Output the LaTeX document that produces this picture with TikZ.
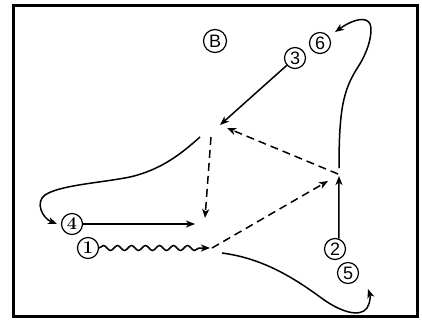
\documentclass[tikz,border=0pt]{standalone}
\usepackage{fontspec}
\newfontfamily\numsans{Liberation Sans}
\usetikzlibrary{arrows.meta,decorations.pathmorphing}
\begin{document}
\begin{tikzpicture}[x=1pt,y=-1pt,
  num/.style={circle,draw,line width=1.2pt,inner sep=0pt,minimum size=21pt,font=\numsans\fontsize{18}{18}\selectfont},
  numser/.style={num,font=\bfseries\fontsize{18}{18}\selectfont},
  tip/.style={-{Stealth[length=9pt,width=7pt,inset=2.5pt]}},
  conn/.style={line width=1.5pt,tip},
  dashconn/.style={conn,dash pattern=on 8pt off 5pt},
  wave/.style={conn,decorate,decoration={snake,amplitude=2.5pt,segment length=14pt,post length=9pt}}]
\useasboundingbox (0,0) rectangle (422,322);
\draw[line width=3pt] (13,5) rectangle (417,316);
% numbered nodes
\node[num,minimum size=23pt] (B) at (215,41) {B};
\node[num] (n3) at (295,58) {3};
\node[num] (n6) at (320,43) {6};
\node[numser] (n4) at (72,224) {4};
\node[numser] (n1) at (88,248) {1};
\node[num] (n2) at (335,249) {2};
\node[num] (n5) at (348,273) {5};
% points
\coordinate (t3) at (220,125);
\coordinate (d1s) at (338,174);
\coordinate (d1e) at (227,128);
\coordinate (d2s) at (212,248);
\coordinate (d2e) at (328,181);
\coordinate (v1s) at (211,137);
\coordinate (v1e) at (205,218);
\coordinate (c1s) at (200,137);
\coordinate (c1e) at (57,224);
\coordinate (t4) at (195,224);
\coordinate (t1) at (210,248);
\coordinate (t2) at (339,176);
\coordinate (c3s) at (222,253);
\coordinate (c3e) at (368,289);
\coordinate (c2s) at (339,168);
\coordinate (c2e) at (335,32);
% connectors
\draw[conn] (n3) -- (t3);
\draw[conn] (n4.east) -- (t4);
\draw[conn] (n2.70) -- (t2);
\draw[wave] (n1.east) -- (t1);
\draw[dashconn] (d1s) -- (d1e);
\draw[dashconn] (d2s) -- (d2e);
\draw[dashconn] (v1s) -- (v1e);
\draw[conn] (c1s) .. controls (180,155) and (160,170) .. (130,177)
  .. controls (100,183) and (60,185) .. (45,195)
  .. controls (35,202) and (42,218) .. (c1e);
\draw[conn] (c2s) .. controls (339,110) and (343,90) .. (358,67)
  .. controls (372,45) and (372,28) .. (370,24)
  .. controls (367,17) and (355,18) .. (c2e);
\draw[conn] (c3s) .. controls (260,258) and (290,275) .. (320,297)
  .. controls (340,312) and (360,318) .. (367,308)
  .. controls (371,302) and (370,295) .. (c3e);
\end{tikzpicture}
\end{document}
